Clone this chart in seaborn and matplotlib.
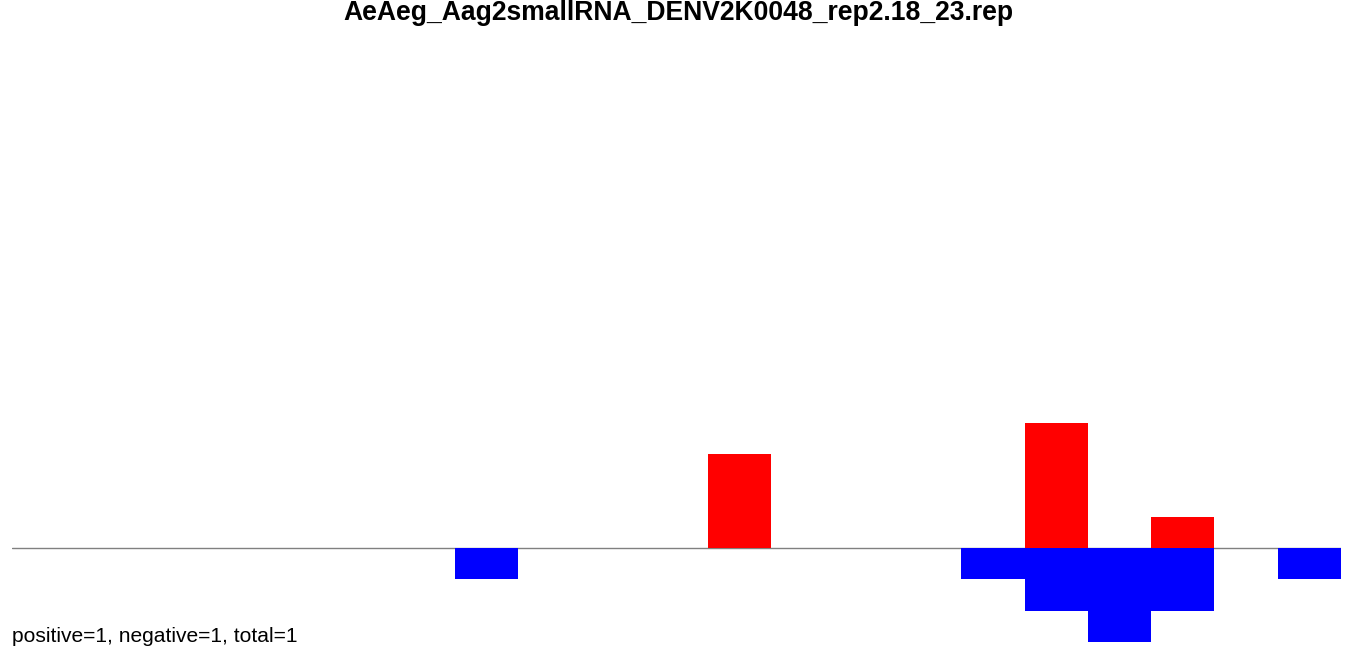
import matplotlib
matplotlib.use('Agg')
import matplotlib.pyplot as plt
import seaborn as sns

title = 'AeAeg_Aag2smallRNA_DENV2K0048_rep2.18_23.rep'
footer = 'positive=1, negative=1, total=1'

# bins along the sequence, with counts on each strand
positions = [0, 1, 2, 3, 4, 5, 6, 7, 8, 9, 10, 11, 12, 13, 14, 15, 16, 17, 18, 19, 20]
positive = [0, 0, 0, 0, 0, 0, 0, 0, 0, 0, 0, 3, 0, 0, 0, 0, 4, 0, 1, 0, 0]
negative = [0, 0, 0, 0, 0, 0, 0, -1, 0, 0, 0, 0, 0, 0, 0, -1, -2, -3, -2, 0, -1]

sns.set_style('white')
plt.rcParams['font.family'] = ['Liberation Sans', 'DejaVu Sans']
plt.rcParams['text.color'] = 'black'

fig = plt.figure(figsize=(13.57, 6.54), dpi=100)
# axes placed in pixel terms: x 12..1341, y 47..642
ax = fig.add_axes([12 / 1357, (654 - 642) / 654, 1329 / 1357, 595 / 654])

ax.axhline(0, color='#808080', linewidth=1, zorder=0)
sns.barplot(x=positions, y=positive, color='#ff0000', saturation=1, width=1,
            linewidth=0, ax=ax, zorder=2)
sns.barplot(x=positions, y=negative, color='#0000ff', saturation=1, width=1,
            linewidth=0, ax=ax, zorder=2)

ax.set_xlim(-0.5, len(positions) - 0.5)
ax.set_ylim(-3, 16)
ax.set_axis_off()

fig.text(0.5, 1 - 13 / 654, title, ha='center', va='center',
         fontsize=19.1, fontweight='bold', color='black')
fig.text(12 / 1357, 1 - 636 / 654, footer, ha='left', va='center',
         fontsize=15.15, color='black')

plt.savefig('out.png', dpi=100)
